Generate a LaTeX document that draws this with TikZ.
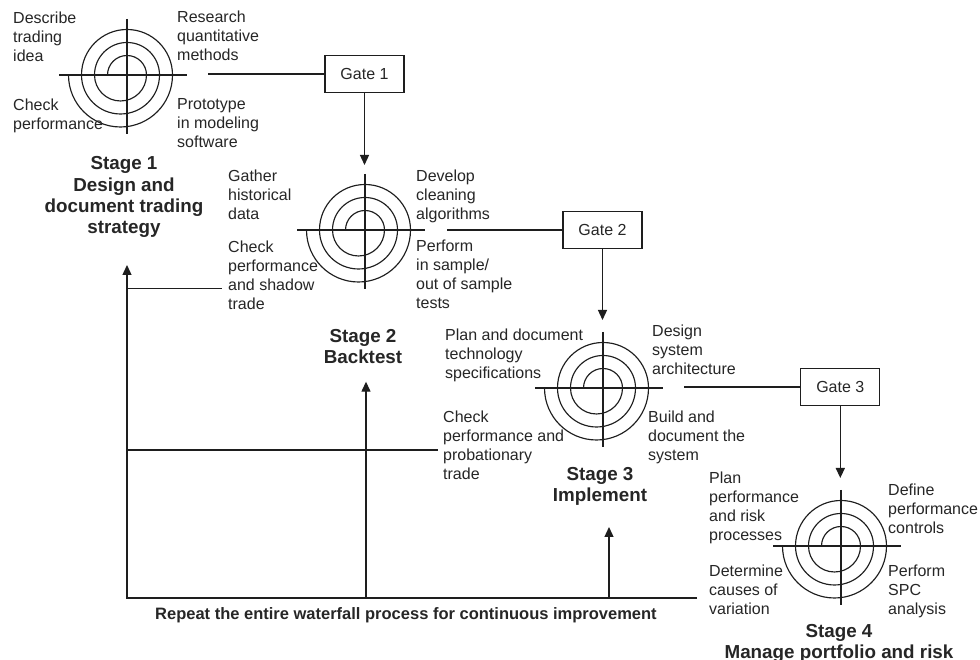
\documentclass[tikz,border=0pt]{standalone}
\usepackage{fontspec}
\setmainfont{Liberation Sans}
\usetikzlibrary{arrows.meta}
\definecolor{ln}{HTML}{1E1E1E}
\definecolor{txt}{HTML}{262626}
\tikzset{
  lbl/.style={anchor=north west, align=left, inner sep=0pt, font=\fontsize{16}{19}\selectfont, text=txt},
  ttl/.style={anchor=north, align=center, inner sep=0pt, font=\fontsize{18.8}{21.3}\selectfont\bfseries, text=txt},
  gate/.style={draw=ln, line width=1.2pt, minimum width=79pt, minimum height=37pt, inner sep=0pt, font=\fontsize{16}{19}\selectfont, text=txt},
  conn/.style={draw=ln, line width=1.3pt},
  arr/.style={conn, -{Triangle[length=10pt,width=9pt]}},
  crossl/.style={draw=ln, line width=2.9pt},
  ring/.style={draw=ln, line width=1.15pt},
  tgt/.pic={
    \draw[ring] (-19.5,0) arc[start angle=180,end angle=0,radius=19.5pt]
       arc[start angle=0,end angle=-180,radius=26pt]
       arc[start angle=180,end angle=0,radius=32.5pt]
       arc[start angle=0,end angle=-180,radius=39pt]
       arc[start angle=180,end angle=0,radius=45.5pt]
       arc[start angle=0,end angle=-180,radius=52pt];
    \draw[crossl] (-68,0) -- (60,0);
    \draw[crossl] (0,56) -- (0,-59);
  }
}
\begin{document}
\begin{tikzpicture}[x=1pt,y=1pt]
\fill[white] (0,0) rectangle (980,660);
\useasboundingbox (0,0) rectangle (980,660);

% stage centres
\coordinate (c1) at (127,585);
\coordinate (c2) at (365,430);
\coordinate (c3) at (603,272);
\coordinate (c4) at (841,114);
\pic at (c1) {tgt};
\pic at (c2) {tgt};
\pic at (c3) {tgt};
\pic at (c4) {tgt};

% stage 1 labels
\node[lbl] (s1a) at (13,648) {Describe\\trading\\idea};
\node[lbl] (s1b) at (177,649.5) {Research\\quantitative\\methods};
\node[lbl] (s1c) at (13,561) {Check\\performance};
\node[lbl] (s1d) at (177,562) {Prototype\\in modeling\\software};
\node[ttl] (t1) at (124,503.5) {Stage 1\\Design and\\document trading\\strategy};

% stage 2 labels
\node[lbl] (s2a) at (228,490) {Gather\\historical\\data};
\node[lbl] (s2b) at (416,490) {Develop\\cleaning\\algorithms};
\node[lbl] (s2c) at (228,419.5) {Check\\performance\\and shadow\\trade};
\node[lbl] (s2d) at (416,420) {Perform\\in sample/\\out of sample\\tests};
\node[ttl] (t2) at (363,331) {Stage 2\\Backtest};

% stage 3 labels
\node[lbl] (s3a) at (445,331) {Plan and document\\technology\\specifications};
\node[lbl] (s3b) at (652,335) {Design\\system\\architecture};
\node[lbl] (s3c) at (443,249) {Check\\performance and\\probationary\\trade};
\node[lbl] (s3d) at (648,249) {Build and\\document the\\system};
\node[ttl] (t3) at (600,193) {Stage 3\\Implement};

% stage 4 labels
\node[lbl] (s4a) at (709,188.5) {Plan\\performance\\and risk\\processes};
\node[lbl] (s4b) at (888,176) {Define\\performance\\controls};
\node[lbl] (s4c) at (709,95) {Determine\\causes of\\variation};
\node[lbl] (s4d) at (888,95) {Perform\\SPC\\analysis};
\node[ttl] (t4) at (839,36) {Stage 4\\Manage portfolio and risk};

% gates
\node[gate] (g1) at (364.5,586) {Gate 1};
\node[gate] (g2) at (602.5,430) {Gate 2};
\node[gate] (g3) at (840.3,273) {Gate 3};
\coordinate (g1l) at (208,586);
\coordinate (g2l) at (447,430);
\coordinate (g3l) at (684,273);
\coordinate (g1t) at (364.5,495);
\coordinate (g2t) at (602.5,340);
\coordinate (g3t) at (840.3,182);
\draw[conn] (g1) -- (g1l);
\draw[conn] (g2) -- (g2l);
\draw[conn] (g3) -- (g3l);
\draw[arr] (g1) -- (g1t);
\draw[arr] (g2) -- (g2t);
\draw[arr] (g3) -- (g3t);

% feedback loop
\coordinate (fR) at (697,62);
\coordinate (f0) at (127,62);
\coordinate (ftip) at (127,395);
\coordinate (fb) at (127,371.7);
\coordinate (fbe) at (221.7,371.7);
\coordinate (fm) at (127,210);
\coordinate (fme) at (438,210);
\coordinate (m0) at (366,62);
\coordinate (mtip) at (366,278.3);
\coordinate (r0) at (609,62);
\coordinate (rtip) at (609,133);
\draw[arr] (fR) -- (f0) -- (ftip);
\draw[conn] (fb) -- (fbe);
\draw[conn] (fm) -- (fme);
\draw[arr] (m0) -- (mtip);
\draw[arr] (r0) -- (rtip);

\node[anchor=base west, inner sep=0pt, font=\fontsize{16.5}{19}\selectfont\bfseries, text=txt] (rep) at (155,40.2) {Repeat the entire waterfall process for continuous improvement};
\end{tikzpicture}
\end{document}
